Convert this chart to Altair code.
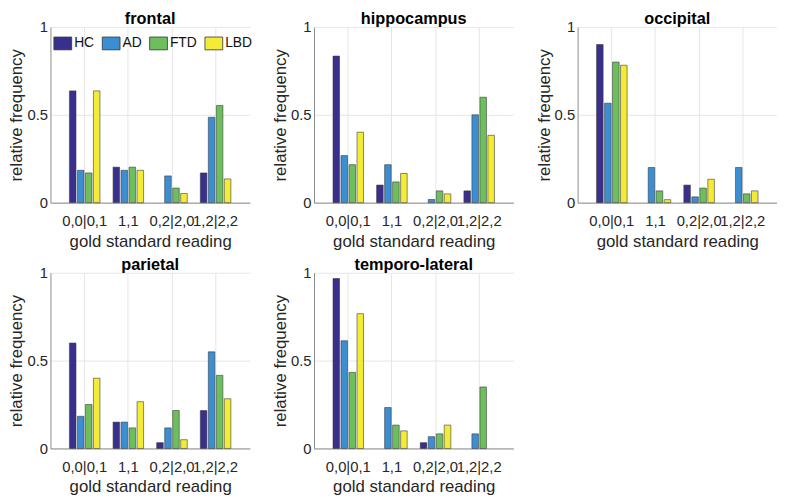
import altair as alt
import pandas as pd

readings = ["0,0|0,1", "1,1", "0,2|2,0", "1,2|2,2"]
groups = ["HC", "AD", "FTD", "LBD"]
colors = ["#392f8d", "#3b8ed2", "#6dbf5d", "#f4eb37"]

regions = ["frontal", "hippocampus", "occipital", "parietal", "temporo-lateral"]

# relative frequency per group, in the order of `readings`
frontal_HC = [0.636, 0.202, 0.0, 0.169]
frontal_AD = [0.184, 0.184, 0.152, 0.486]
frontal_FTD = [0.169, 0.202, 0.083, 0.553]
frontal_LBD = [0.636, 0.184, 0.052, 0.135]

hippocampus_HC = [0.834, 0.100, 0.0, 0.067]
hippocampus_AD = [0.268, 0.216, 0.018, 0.500]
hippocampus_FTD = [0.216, 0.118, 0.067, 0.600]
hippocampus_LBD = [0.401, 0.166, 0.050, 0.383]

occipital_HC = [0.900, 0.0, 0.100, 0.0]
occipital_AD = [0.566, 0.200, 0.033, 0.200]
occipital_FTD = [0.800, 0.067, 0.083, 0.050]
occipital_LBD = [0.782, 0.017, 0.133, 0.067]

parietal_HC = [0.600, 0.150, 0.033, 0.216]
parietal_AD = [0.183, 0.150, 0.117, 0.550]
parietal_FTD = [0.250, 0.117, 0.216, 0.416]
parietal_LBD = [0.400, 0.266, 0.050, 0.283]

temporo_HC = [0.967, 0.0, 0.033, 0.0]
temporo_AD = [0.613, 0.233, 0.067, 0.083]
temporo_FTD = [0.433, 0.133, 0.083, 0.350]
temporo_LBD = [0.767, 0.100, 0.133, 0.0]

table = {
    "frontal": [frontal_HC, frontal_AD, frontal_FTD, frontal_LBD],
    "hippocampus": [hippocampus_HC, hippocampus_AD, hippocampus_FTD, hippocampus_LBD],
    "occipital": [occipital_HC, occipital_AD, occipital_FTD, occipital_LBD],
    "parietal": [parietal_HC, parietal_AD, parietal_FTD, parietal_LBD],
    "temporo-lateral": [temporo_HC, temporo_AD, temporo_FTD, temporo_LBD],
}

rows = []
for reg in regions:
    for g, vals in zip(groups, table[reg]):
        for r, v in zip(readings, vals):
            rows.append({"region": reg, "group": g, "reading": r, "value": v})
df = pd.DataFrame(rows)

FONT = "Liberation Sans"
W, H = 202, 178


def panel(reg, show_legend):
    if show_legend:
        legend = alt.Legend(
            title=None, orient="none", legendX=3, legendY=7, direction="horizontal",
            columns=4, gridAlign="each", symbolType="M-1,-0.72H1V0.72H-1Z", symbolSize=324,
            symbolStrokeColor="#333333", symbolStrokeWidth=0.8, symbolOpacity=1,
            labelFontSize=14, labelFont=FONT, labelColor="#111111", labelOffset=2,
            columnPadding=5, padding=0,
        )
    else:
        legend = None
    return (
        alt.Chart(df[df.region == reg])
        .transform_filter("datum.value > 0")
        .mark_bar(stroke="#3a3a3a", strokeWidth=0.7, strokeOpacity=0.85)
        .encode(
            x=alt.X(
                "reading:N", sort=readings,
                scale=alt.Scale(domain=readings, paddingInner=0.3, paddingOuter=0.435),
                axis=alt.Axis(title="gold standard reading", labelAngle=0, bandPosition=0.5,
                              ticks=False, grid=True, labelPadding=11, titlePadding=5),
            ),
            xOffset=alt.XOffset("group:N", sort=groups,
                                scale=alt.Scale(domain=groups, paddingInner=0.18, paddingOuter=0)),
            y=alt.Y(
                "value:Q", scale=alt.Scale(domain=[0, 1]),
                axis=alt.Axis(title="relative frequency", values=[0, 0.5, 1], format="~g",
                              ticks=False, labelPadding=3, titlePadding=1),
            ),
            color=alt.Color("group:N", sort=groups,
                            scale=alt.Scale(domain=groups, range=colors), legend=legend),
        )
        .properties(width=W, height=H, title=reg)
    )


top = alt.hconcat(panel("frontal", True), panel("hippocampus", False), panel("occipital", False),
                  spacing=22)
bottom = alt.hconcat(panel("parietal", False), panel("temporo-lateral", False), spacing=22)

chart = (
    alt.vconcat(top, bottom, spacing=8)
    .resolve_legend(color="independent")
    .properties(padding={"left": 0, "top": 0, "right": 0, "bottom": 0})
    .configure_view(stroke=None)
    .configure_axis(
        labelFont=FONT, titleFont=FONT, labelFontSize=15, titleFontSize=17,
        labelColor="#262626", titleColor="#262626", titleFontWeight="normal",
        domainColor="#8a8a8a", domainWidth=1, gridColor="#e6e6e6", gridWidth=1,
    )
    .configure_title(font=FONT, fontSize=16.5, fontWeight="bold", color="#000000", offset=-8)
)

chart.save("out.html", embed_options={"renderer": "svg", "actions": False})
